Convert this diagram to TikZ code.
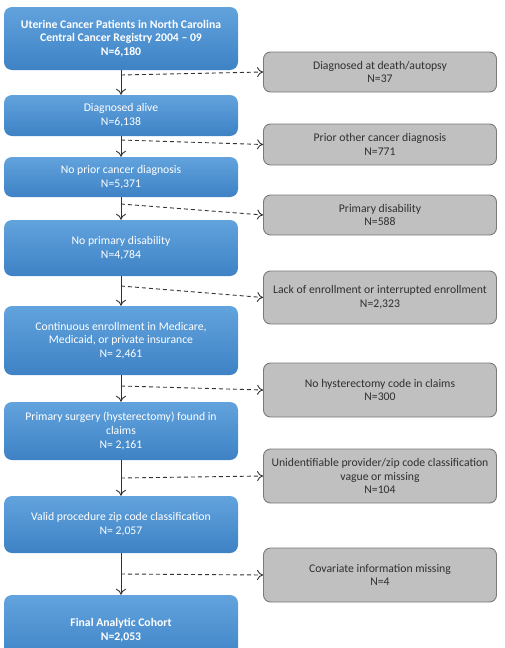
\documentclass[tikz,border=0pt]{standalone}
\usepackage{fontspec}
\setmainfont{Carlito}
\usetikzlibrary{arrows.meta}
\definecolor{bluetop}{HTML}{62A3DD}
\definecolor{bluebot}{HTML}{3E82C5}
\definecolor{grayfill}{HTML}{C0C0C0}
\definecolor{grayline}{HTML}{7A7A7A}
\definecolor{arrowc}{HTML}{333333}
\definecolor{graytext}{HTML}{303030}
\begin{document}
\begin{tikzpicture}[x=1pt,y=1pt,
  bluebox/.style={rounded corners=8pt, top color=bluetop, bottom color=bluebot, draw=none,
    minimum width=234pt, align=center, text=white, font=\fontsize{11.7}{13.7}\selectfont, inner sep=0pt},
  graybox/.style={rounded corners=7pt, fill=grayfill, draw=grayline, line width=0.9pt,
    minimum width=233pt, align=center, text=graytext, font=\fontsize{11.7}{13.7}\selectfont, inner sep=0pt},
  flow/.style={draw=arrowc, line width=0.9pt, -{To[length=6pt,width=10pt]}},
  excl/.style={draw=arrowc, line width=0.9pt, dashed, dash pattern=on 4pt off 3pt, -{To[length=6pt,width=10pt]}}]
\useasboundingbox (0,0) rectangle (504,-648);
% blue boxes
\node[bluebox, minimum height=63pt] (b1) at (121,-38.5) {\bfseries Uterine Cancer Patients in North Carolina\\\bfseries Central Cancer Registry 2004 -- 09\\\bfseries N=6,180};
\node[bluebox, minimum height=41pt] (b2) at (121,-115.5) {Diagnosed alive\\N=6,138};
\node[bluebox, minimum height=40pt] (b3) at (121,-177) {No prior cancer diagnosis\\N=5,371};
\node[bluebox, minimum height=56pt] (b4) at (121,-248) {No primary disability\\N=4,784};
\node[bluebox, minimum height=69pt] (b5) at (121,-340.5) {Continuous enrollment in Medicare,\\Medicaid, or private insurance\\N= 2,461};
\node[bluebox, minimum height=58pt] (b6) at (121,-431) {Primary surgery (hysterectomy) found in\\claims\\N= 2,161};
\node[bluebox, minimum height=57pt] (b7) at (121,-524.5) {Valid procedure zip code classification\\N= 2,057};
\node[bluebox, minimum height=70pt] (b8) at (121,-630) {\bfseries Final Analytic Cohort\\\bfseries N=2,053};
% gray boxes
\node[graybox, minimum height=40pt] (g1) at (380,-72) {Diagnosed at death/autopsy\\N=37};
\node[graybox, minimum height=41pt] (g2) at (380,-144.5) {Prior other cancer diagnosis\\N=771};
\node[graybox, minimum height=40pt] (g3) at (380,-215) {Primary disability\\N=588};
\node[graybox, minimum height=53pt] (g4) at (380,-297.5) {Lack of enrollment or interrupted enrollment\\N=2,323};
\node[graybox, minimum height=54pt] (g5) at (380,-390) {No hysterectomy code in claims\\N=300};
\node[graybox, minimum height=54pt] (g6) at (380,-476) {Unidentifiable provider/zip code classification\\vague or missing\\N=104};
\node[graybox, minimum height=54pt] (g7) at (380,-575) {Covariate information missing\\N=4};
% vertical arrows
\draw[flow] (b1) -- (b2);
\draw[flow] (b2) -- (b3);
\draw[flow] (b3) -- (b4);
\draw[flow] (b4) -- (b5);
\draw[flow] (b5) -- (b6);
\draw[flow] (b6) -- (b7);
\draw[flow] (b7) -- (b8);
% branch points
\coordinate (d1) at (121,-75);
\coordinate (d2) at (121,-140);
\coordinate (d3) at (121,-204);
\coordinate (d4) at (121,-286);
\coordinate (d5) at (121,-386);
\coordinate (d6) at (121,-478);
\coordinate (d7) at (121,-574);
\draw[excl] (d1) -- (g1.west);
\draw[excl] (d2) -- (g2.west);
\draw[excl] (d3) -- (g3.west);
\draw[excl] (d4) -- (g4.west);
\draw[excl] (d5) -- (g5.west);
\draw[excl] (d6) -- (g6.west);
\draw[excl] (d7) -- (g7.west);
\end{tikzpicture}
\end{document}
